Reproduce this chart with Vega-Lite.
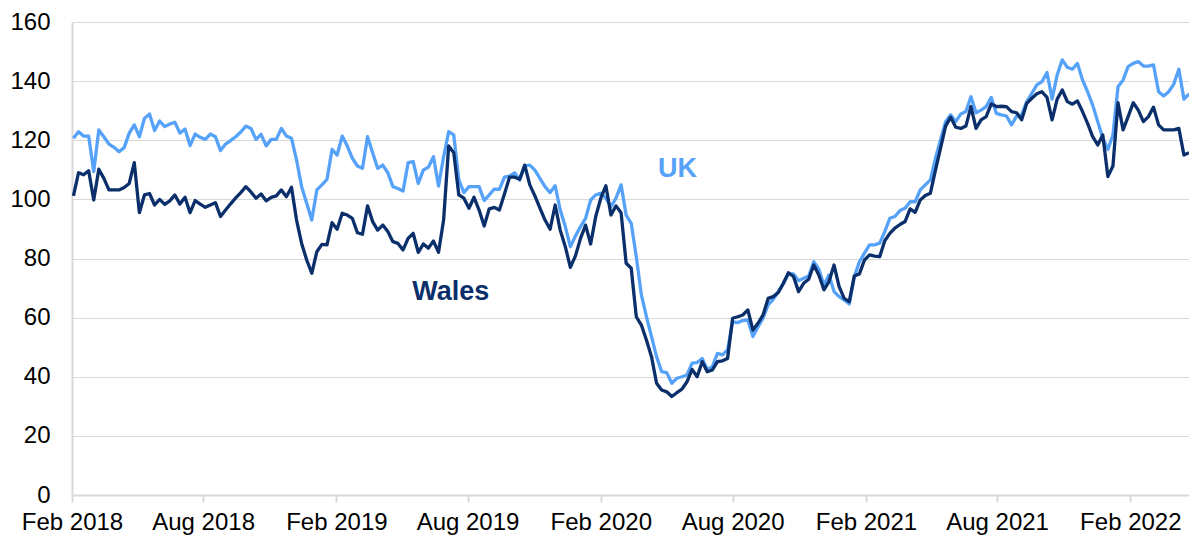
{
  "$schema": "https://vega.github.io/schema/vega-lite/v6.json",
  "width": 1117,
  "height": 473,
  "autosize": {"type": "none"},
  "padding": {"left": 72, "top": 22, "right": 0, "bottom": 44},
  "background": "white",
  "config": {
    "view": {"stroke": null},
    "font": "Liberation Sans",
    "axis": {"labelFont": "Liberation Sans", "labelColor": "#000000", "title": null}
  },
  "data": {
    "values": [
      {"date": "2018-02-03", "UK": 120.7, "Wales": 101.2},
      {"date": "2018-02-10", "UK": 122.9, "Wales": 109.0},
      {"date": "2018-02-17", "UK": 121.4, "Wales": 108.3},
      {"date": "2018-02-24", "UK": 121.4, "Wales": 109.7},
      {"date": "2018-03-03", "UK": 109.4, "Wales": 99.8},
      {"date": "2018-03-10", "UK": 123.5, "Wales": 110.2},
      {"date": "2018-03-17", "UK": 121.2, "Wales": 107.1},
      {"date": "2018-03-24", "UK": 118.7, "Wales": 103.2},
      {"date": "2018-03-31", "UK": 117.6, "Wales": 103.2},
      {"date": "2018-04-07", "UK": 116.1, "Wales": 103.2},
      {"date": "2018-04-14", "UK": 117.5, "Wales": 104.0},
      {"date": "2018-04-21", "UK": 122.4, "Wales": 105.4},
      {"date": "2018-04-28", "UK": 125.2, "Wales": 112.4},
      {"date": "2018-05-05", "UK": 121.2, "Wales": 95.5},
      {"date": "2018-05-12", "UK": 127.4, "Wales": 101.5},
      {"date": "2018-05-19", "UK": 128.9, "Wales": 102.0},
      {"date": "2018-05-26", "UK": 123.3, "Wales": 98.1},
      {"date": "2018-06-02", "UK": 126.5, "Wales": 100.0},
      {"date": "2018-06-09", "UK": 124.6, "Wales": 98.3},
      {"date": "2018-06-16", "UK": 125.5, "Wales": 99.5},
      {"date": "2018-06-23", "UK": 126.1, "Wales": 101.5},
      {"date": "2018-06-30", "UK": 122.4, "Wales": 98.4},
      {"date": "2018-07-07", "UK": 123.8, "Wales": 100.7},
      {"date": "2018-07-14", "UK": 118.2, "Wales": 95.5},
      {"date": "2018-07-21", "UK": 122.1, "Wales": 99.6},
      {"date": "2018-07-28", "UK": 121.0, "Wales": 98.4},
      {"date": "2018-08-04", "UK": 120.3, "Wales": 97.3},
      {"date": "2018-08-11", "UK": 122.1, "Wales": 98.1},
      {"date": "2018-08-18", "UK": 121.2, "Wales": 98.9},
      {"date": "2018-08-25", "UK": 116.5, "Wales": 94.2},
      {"date": "2018-09-01", "UK": 118.7, "Wales": 96.4},
      {"date": "2018-09-08", "UK": 119.9, "Wales": 98.5},
      {"date": "2018-09-15", "UK": 121.2, "Wales": 100.5},
      {"date": "2018-09-22", "UK": 122.8, "Wales": 102.3},
      {"date": "2018-09-29", "UK": 124.8, "Wales": 104.3},
      {"date": "2018-10-06", "UK": 124.0, "Wales": 102.5},
      {"date": "2018-10-13", "UK": 120.3, "Wales": 100.4},
      {"date": "2018-10-20", "UK": 122.0, "Wales": 101.8},
      {"date": "2018-10-27", "UK": 118.1, "Wales": 99.5},
      {"date": "2018-11-03", "UK": 120.3, "Wales": 100.7},
      {"date": "2018-11-10", "UK": 120.3, "Wales": 101.2},
      {"date": "2018-11-17", "UK": 124.0, "Wales": 103.2},
      {"date": "2018-11-24", "UK": 121.4, "Wales": 100.9},
      {"date": "2018-12-01", "UK": 120.7, "Wales": 104.1},
      {"date": "2018-12-08", "UK": 113.3, "Wales": 93.0},
      {"date": "2018-12-15", "UK": 104.3, "Wales": 85.1},
      {"date": "2018-12-22", "UK": 98.7, "Wales": 79.5},
      {"date": "2018-12-29", "UK": 93.0, "Wales": 75.0},
      {"date": "2019-01-05", "UK": 103.2, "Wales": 82.3},
      {"date": "2019-01-12", "UK": 104.9, "Wales": 84.8},
      {"date": "2019-01-19", "UK": 106.8, "Wales": 84.6},
      {"date": "2019-01-26", "UK": 116.9, "Wales": 92.1},
      {"date": "2019-02-02", "UK": 115.0, "Wales": 89.9},
      {"date": "2019-02-09", "UK": 121.4, "Wales": 95.3},
      {"date": "2019-02-16", "UK": 118.1, "Wales": 94.7},
      {"date": "2019-02-23", "UK": 113.9, "Wales": 93.6},
      {"date": "2019-03-02", "UK": 111.3, "Wales": 88.7},
      {"date": "2019-03-09", "UK": 110.5, "Wales": 88.2},
      {"date": "2019-03-16", "UK": 121.2, "Wales": 97.8},
      {"date": "2019-03-23", "UK": 115.8, "Wales": 92.5},
      {"date": "2019-03-30", "UK": 110.5, "Wales": 89.6},
      {"date": "2019-04-06", "UK": 111.6, "Wales": 91.3},
      {"date": "2019-04-13", "UK": 109.0, "Wales": 89.1},
      {"date": "2019-04-20", "UK": 104.3, "Wales": 85.7},
      {"date": "2019-04-27", "UK": 103.7, "Wales": 85.1},
      {"date": "2019-05-04", "UK": 102.8, "Wales": 82.9},
      {"date": "2019-05-11", "UK": 112.4, "Wales": 86.8},
      {"date": "2019-05-18", "UK": 112.8, "Wales": 88.5},
      {"date": "2019-05-25", "UK": 105.4, "Wales": 82.1},
      {"date": "2019-06-01", "UK": 109.9, "Wales": 84.9},
      {"date": "2019-06-08", "UK": 110.9, "Wales": 83.5},
      {"date": "2019-06-15", "UK": 114.4, "Wales": 85.9},
      {"date": "2019-06-22", "UK": 104.5, "Wales": 82.1},
      {"date": "2019-06-29", "UK": 114.4, "Wales": 93.0},
      {"date": "2019-07-06", "UK": 122.9, "Wales": 118.1},
      {"date": "2019-07-13", "UK": 121.8, "Wales": 115.8},
      {"date": "2019-07-20", "UK": 106.6, "Wales": 101.5},
      {"date": "2019-07-27", "UK": 102.3, "Wales": 100.4},
      {"date": "2019-08-03", "UK": 104.3, "Wales": 97.0},
      {"date": "2019-08-10", "UK": 104.3, "Wales": 100.7},
      {"date": "2019-08-17", "UK": 104.3, "Wales": 96.4},
      {"date": "2019-08-24", "UK": 99.6, "Wales": 91.0},
      {"date": "2019-08-31", "UK": 101.5, "Wales": 96.8},
      {"date": "2019-09-07", "UK": 103.5, "Wales": 97.3},
      {"date": "2019-09-14", "UK": 103.4, "Wales": 96.4},
      {"date": "2019-09-21", "UK": 107.5, "Wales": 101.8},
      {"date": "2019-09-28", "UK": 107.9, "Wales": 107.5},
      {"date": "2019-10-05", "UK": 109.0, "Wales": 107.5},
      {"date": "2019-10-12", "UK": 106.5, "Wales": 106.8},
      {"date": "2019-10-19", "UK": 111.3, "Wales": 111.6},
      {"date": "2019-10-26", "UK": 111.6, "Wales": 104.9},
      {"date": "2019-11-02", "UK": 109.9, "Wales": 101.2},
      {"date": "2019-11-09", "UK": 107.1, "Wales": 97.0},
      {"date": "2019-11-16", "UK": 104.3, "Wales": 93.0},
      {"date": "2019-11-23", "UK": 102.3, "Wales": 89.9},
      {"date": "2019-11-30", "UK": 104.6, "Wales": 98.1},
      {"date": "2019-12-07", "UK": 96.4, "Wales": 89.6},
      {"date": "2019-12-14", "UK": 90.8, "Wales": 84.0},
      {"date": "2019-12-21", "UK": 84.0, "Wales": 77.0},
      {"date": "2019-12-28", "UK": 87.6, "Wales": 80.9},
      {"date": "2020-01-04", "UK": 90.8, "Wales": 86.8},
      {"date": "2020-01-11", "UK": 93.6, "Wales": 91.3},
      {"date": "2020-01-18", "UK": 99.8, "Wales": 84.9},
      {"date": "2020-01-25", "UK": 101.5, "Wales": 94.2},
      {"date": "2020-02-01", "UK": 102.1, "Wales": 100.4},
      {"date": "2020-02-08", "UK": 100.4, "Wales": 104.6},
      {"date": "2020-02-15", "UK": 97.5, "Wales": 94.7},
      {"date": "2020-02-22", "UK": 100.4, "Wales": 97.8},
      {"date": "2020-02-29", "UK": 104.9, "Wales": 95.5},
      {"date": "2020-03-07", "UK": 94.7, "Wales": 78.4},
      {"date": "2020-03-14", "UK": 91.9, "Wales": 76.7},
      {"date": "2020-03-21", "UK": 80.6, "Wales": 60.3},
      {"date": "2020-03-28", "UK": 67.7, "Wales": 57.5},
      {"date": "2020-04-04", "UK": 60.3, "Wales": 52.4},
      {"date": "2020-04-11", "UK": 53.6, "Wales": 46.8},
      {"date": "2020-04-18", "UK": 46.8, "Wales": 37.8},
      {"date": "2020-04-25", "UK": 41.7, "Wales": 35.5},
      {"date": "2020-05-02", "UK": 41.4, "Wales": 34.9},
      {"date": "2020-05-09", "UK": 37.8, "Wales": 33.3},
      {"date": "2020-05-16", "UK": 39.5, "Wales": 34.6},
      {"date": "2020-05-23", "UK": 40.0, "Wales": 35.8},
      {"date": "2020-05-30", "UK": 40.6, "Wales": 38.3},
      {"date": "2020-06-06", "UK": 44.6, "Wales": 42.5},
      {"date": "2020-06-13", "UK": 44.8, "Wales": 40.0},
      {"date": "2020-06-20", "UK": 46.2, "Wales": 45.1},
      {"date": "2020-06-27", "UK": 42.5, "Wales": 41.7},
      {"date": "2020-07-04", "UK": 43.4, "Wales": 42.3},
      {"date": "2020-07-11", "UK": 47.9, "Wales": 45.1},
      {"date": "2020-07-18", "UK": 47.4, "Wales": 45.4},
      {"date": "2020-07-25", "UK": 49.1, "Wales": 46.2},
      {"date": "2020-08-01", "UK": 58.6, "Wales": 59.8},
      {"date": "2020-08-08", "UK": 58.3, "Wales": 60.3},
      {"date": "2020-08-15", "UK": 59.0, "Wales": 60.9},
      {"date": "2020-08-22", "UK": 59.2, "Wales": 62.6},
      {"date": "2020-08-29", "UK": 53.6, "Wales": 55.8},
      {"date": "2020-09-05", "UK": 56.9, "Wales": 58.1},
      {"date": "2020-09-12", "UK": 59.8, "Wales": 60.9},
      {"date": "2020-09-19", "UK": 64.3, "Wales": 66.5},
      {"date": "2020-09-26", "UK": 66.2, "Wales": 67.1},
      {"date": "2020-10-03", "UK": 68.8, "Wales": 68.5},
      {"date": "2020-10-10", "UK": 71.5, "Wales": 71.6},
      {"date": "2020-10-17", "UK": 74.8, "Wales": 75.2},
      {"date": "2020-10-24", "UK": 74.8, "Wales": 73.9},
      {"date": "2020-10-31", "UK": 72.5, "Wales": 68.8},
      {"date": "2020-11-07", "UK": 73.3, "Wales": 71.6},
      {"date": "2020-11-14", "UK": 74.1, "Wales": 73.0},
      {"date": "2020-11-21", "UK": 78.9, "Wales": 77.8},
      {"date": "2020-11-28", "UK": 76.4, "Wales": 74.4},
      {"date": "2020-12-05", "UK": 71.0, "Wales": 69.4},
      {"date": "2020-12-12", "UK": 74.4, "Wales": 72.2},
      {"date": "2020-12-19", "UK": 68.8, "Wales": 77.8},
      {"date": "2020-12-26", "UK": 67.1, "Wales": 70.5},
      {"date": "2021-01-02", "UK": 66.0, "Wales": 66.5},
      {"date": "2021-01-09", "UK": 64.6, "Wales": 65.4},
      {"date": "2021-01-16", "UK": 73.9, "Wales": 74.1},
      {"date": "2021-01-23", "UK": 78.9, "Wales": 74.8},
      {"date": "2021-01-30", "UK": 81.8, "Wales": 79.5},
      {"date": "2021-02-06", "UK": 84.6, "Wales": 81.2},
      {"date": "2021-02-13", "UK": 84.6, "Wales": 80.8},
      {"date": "2021-02-20", "UK": 85.2, "Wales": 80.6},
      {"date": "2021-02-27", "UK": 89.1, "Wales": 86.0},
      {"date": "2021-03-06", "UK": 93.6, "Wales": 88.5},
      {"date": "2021-03-13", "UK": 94.2, "Wales": 90.3},
      {"date": "2021-03-20", "UK": 96.2, "Wales": 91.5},
      {"date": "2021-03-27", "UK": 97.0, "Wales": 92.5},
      {"date": "2021-04-03", "UK": 99.2, "Wales": 96.8},
      {"date": "2021-04-10", "UK": 99.2, "Wales": 95.6},
      {"date": "2021-04-17", "UK": 103.2, "Wales": 99.8},
      {"date": "2021-04-24", "UK": 104.9, "Wales": 101.3},
      {"date": "2021-05-01", "UK": 106.6, "Wales": 102.1},
      {"date": "2021-05-08", "UK": 113.9, "Wales": 109.9},
      {"date": "2021-05-15", "UK": 120.1, "Wales": 117.3},
      {"date": "2021-05-22", "UK": 126.3, "Wales": 124.8},
      {"date": "2021-05-29", "UK": 128.6, "Wales": 127.8},
      {"date": "2021-06-05", "UK": 126.3, "Wales": 124.4},
      {"date": "2021-06-12", "UK": 128.9, "Wales": 124.0},
      {"date": "2021-06-19", "UK": 129.7, "Wales": 124.8},
      {"date": "2021-06-26", "UK": 134.7, "Wales": 131.4},
      {"date": "2021-07-03", "UK": 129.3, "Wales": 124.0},
      {"date": "2021-07-10", "UK": 130.2, "Wales": 126.9},
      {"date": "2021-07-17", "UK": 131.4, "Wales": 128.0},
      {"date": "2021-07-24", "UK": 134.5, "Wales": 132.3},
      {"date": "2021-07-31", "UK": 129.1, "Wales": 131.4},
      {"date": "2021-08-07", "UK": 128.6, "Wales": 131.5},
      {"date": "2021-08-14", "UK": 128.2, "Wales": 131.4},
      {"date": "2021-08-21", "UK": 125.2, "Wales": 129.7},
      {"date": "2021-08-28", "UK": 128.2, "Wales": 129.3},
      {"date": "2021-09-04", "UK": 128.6, "Wales": 126.9},
      {"date": "2021-09-11", "UK": 133.1, "Wales": 132.5},
      {"date": "2021-09-18", "UK": 135.9, "Wales": 134.2},
      {"date": "2021-09-25", "UK": 138.7, "Wales": 135.7},
      {"date": "2021-10-02", "UK": 139.8, "Wales": 136.4},
      {"date": "2021-10-09", "UK": 142.9, "Wales": 134.5},
      {"date": "2021-10-16", "UK": 133.9, "Wales": 126.9},
      {"date": "2021-10-23", "UK": 142.1, "Wales": 133.9},
      {"date": "2021-10-30", "UK": 147.2, "Wales": 137.0},
      {"date": "2021-11-06", "UK": 144.7, "Wales": 133.1},
      {"date": "2021-11-13", "UK": 144.0, "Wales": 132.2},
      {"date": "2021-11-20", "UK": 146.0, "Wales": 133.3},
      {"date": "2021-11-27", "UK": 140.4, "Wales": 129.7},
      {"date": "2021-12-04", "UK": 136.4, "Wales": 125.7},
      {"date": "2021-12-11", "UK": 131.9, "Wales": 121.2},
      {"date": "2021-12-18", "UK": 126.3, "Wales": 118.4},
      {"date": "2021-12-25", "UK": 120.7, "Wales": 121.8},
      {"date": "2022-01-01", "UK": 116.9, "Wales": 107.7},
      {"date": "2022-01-08", "UK": 121.8, "Wales": 111.3},
      {"date": "2022-01-15", "UK": 138.1, "Wales": 132.7},
      {"date": "2022-01-22", "UK": 140.4, "Wales": 123.5},
      {"date": "2022-01-29", "UK": 144.9, "Wales": 128.0},
      {"date": "2022-02-05", "UK": 146.0, "Wales": 132.7},
      {"date": "2022-02-12", "UK": 146.6, "Wales": 130.2},
      {"date": "2022-02-19", "UK": 145.1, "Wales": 126.3},
      {"date": "2022-02-26", "UK": 145.1, "Wales": 128.0},
      {"date": "2022-03-05", "UK": 145.5, "Wales": 131.2},
      {"date": "2022-03-12", "UK": 136.4, "Wales": 125.2},
      {"date": "2022-03-19", "UK": 135.0, "Wales": 123.5},
      {"date": "2022-03-26", "UK": 136.4, "Wales": 123.5},
      {"date": "2022-04-02", "UK": 139.0, "Wales": 123.5},
      {"date": "2022-04-09", "UK": 144.0, "Wales": 124.0},
      {"date": "2022-04-16", "UK": 133.9, "Wales": 115.0},
      {"date": "2022-04-23", "UK": 135.7, "Wales": 115.8}
    ],
    "format": {"parse": {"date": "date:'%Y-%m-%d'"}}
  },
  "layer": [
    {
      "mark": {"type": "line", "stroke": "#55A2F8", "strokeWidth": 3.3, "strokeJoin": "round"},
      "encoding": {
        "x": {
          "field": "date",
          "type": "temporal",
          "scale": {"domain": [{"year": 2018, "month": 2, "date": 1}, {"year": 2022, "month": 4, "date": 23}]},
          "axis": {
            "values": [
              {"year": 2018, "month": 2, "date": 1},
              {"year": 2018, "month": 8, "date": 1},
              {"year": 2019, "month": 2, "date": 1},
              {"year": 2019, "month": 8, "date": 1},
              {"year": 2020, "month": 2, "date": 1},
              {"year": 2020, "month": 8, "date": 1},
              {"year": 2021, "month": 2, "date": 1},
              {"year": 2021, "month": 8, "date": 1},
              {"year": 2022, "month": 2, "date": 1}
            ],
            "format": "%b %Y",
            "grid": false,
            "domainColor": "#d9d9d9",
            "domainWidth": 2,
            "tickColor": "#d9d9d9",
            "tickWidth": 2,
            "tickSize": 7,
            "labelFontSize": 24,
            "labelPadding": 8,
            "labelFlush": false,
            "labelOverlap": false,
            "labelBound": false
          }
        },
        "y": {
          "field": "UK",
          "type": "quantitative",
          "scale": {"domain": [0, 160], "nice": false},
          "axis": {
            "values": [0, 20, 40, 60, 80, 100, 120, 140, 160],
            "grid": true,
            "gridColor": "#d9d9d9",
            "gridWidth": 1,
            "domainColor": "#d9d9d9",
            "domainWidth": 2,
            "ticks": false,
            "labelFontSize": 24,
            "labelPadding": 22,
            "labelFlush": false
          }
        }
      }
    },
    {
      "mark": {"type": "line", "stroke": "#0A2F6B", "strokeWidth": 3.3, "strokeJoin": "round"},
      "encoding": {
        "x": {"field": "date", "type": "temporal"},
        "y": {"field": "Wales", "type": "quantitative"}
      }
    },
    {
      "data": {
        "values": [
          {"date": "2020-05-17", "value": 110.3, "name": "UK"},
          {"date": "2019-07-09", "value": 68.8, "name": "Wales"}
        ],
        "format": {"parse": {"date": "date:'%Y-%m-%d'"}}
      },
      "mark": {"type": "text", "font": "Liberation Sans", "fontWeight": "bold", "fontSize": 27, "align": "center", "baseline": "middle"},
      "encoding": {
        "x": {"field": "date", "type": "temporal"},
        "y": {"field": "value", "type": "quantitative"},
        "text": {"field": "name"},
        "color": {"field": "name", "type": "nominal", "scale": {"domain": ["UK", "Wales"], "range": ["#55A2F8", "#0A2F6B"]}, "legend": null}
      }
    }
  ]
}
